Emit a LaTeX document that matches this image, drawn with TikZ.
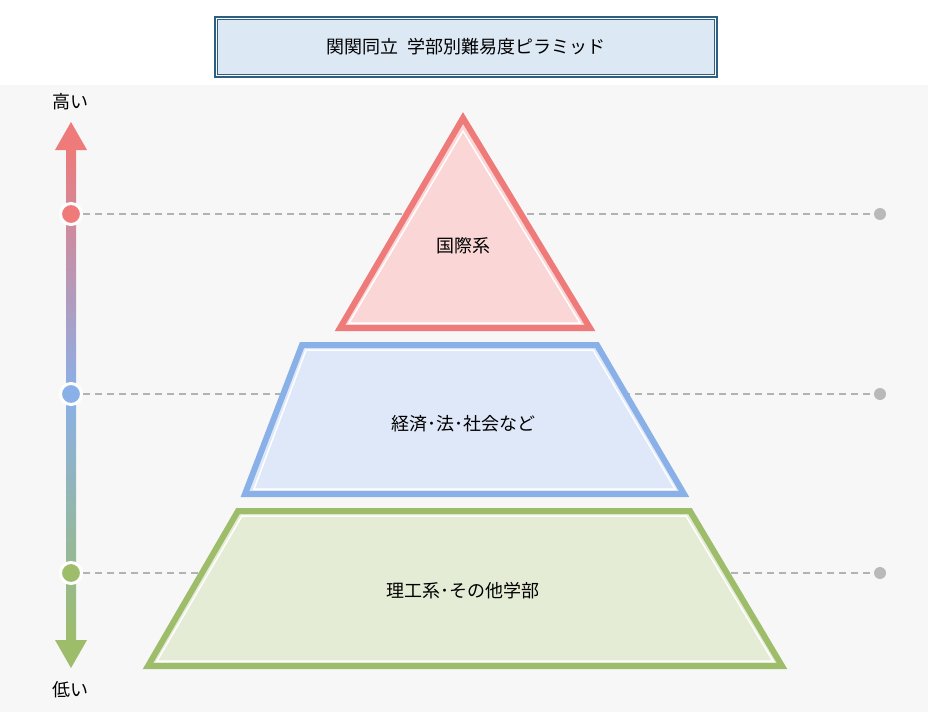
\documentclass[tikz,border=0pt]{standalone}
\usepackage{fontspec}
\newfontfamily\jp{Noto Sans CJK JP}
\definecolor{rd}{HTML}{EE7A7A}\definecolor{rdf}{HTML}{FBD6D6}
\definecolor{bl}{HTML}{8AB0E8}\definecolor{blf}{HTML}{DFE8F8}
\definecolor{gr}{HTML}{9DBD6A}\definecolor{grf}{HTML}{E5ECD6}
\definecolor{tb}{HTML}{2E5F80}\definecolor{tf}{HTML}{DCE9F5}
\begin{document}
\begin{tikzpicture}[x=1pt,y=-1pt,font=\jp\fontsize{18}{21}\selectfont,
  tier/.style={line width=6pt,line join=miter},
  inner/.style={draw=white,line width=1.5pt},
  guide/.style={draw=gray!60,line width=1.3pt,dash pattern=on 7pt off 5pt},
  enddot/.style={circle,fill=gray!55,minimum size=12pt,inner sep=0},
  lvl/.style={circle,draw=white,line width=3pt,minimum size=21pt,inner sep=0}]
\useasboundingbox (0,0) rectangle (928,712);
\fill[white] (0,0) rectangle (928,85);
\fill[black!3] (0,85) rectangle (928,712);
% title
\node[draw=tb,line width=1.8pt,fill=tf,minimum width=502pt,minimum height=60pt] (title) at (466,47) {関関同立\ \ 学部別難易度ピラミッド};
\draw[white,line width=0.8pt] (216.5,18.5) rectangle (715.5,75.5);
\draw[tb,line width=0.6pt] (217.5,19.5) rectangle (714.5,74.5);
% dashed lines
\node[enddot] (e1) at (880,214) {};
\node[enddot] (e2) at (880,394) {};
\node[enddot] (e3) at (880,573) {};
\coordinate (c1) at (71,214);\coordinate (c2) at (71,394);\coordinate (c3) at (71,573);
\draw[guide] (c1) -- (e1); \draw[guide] (c2) -- (e2); \draw[guide] (c3) -- (e3);
% pyramid
\filldraw[tier,draw=rd,fill=rdf] (463,118) -- (590,328) -- (340,328) -- cycle;
\draw[inner] (463,131) -- (580,323) -- (349,323) -- cycle;
\node (t1) at (463,246) {国際系};
\filldraw[tier,draw=bl,fill=blf] (302,345) -- (597,345) -- (684,494) -- (245,494) -- cycle;
\draw[inner] (306,350) -- (593,350) -- (675,489) -- (254,489) -- cycle;
\node (t2) at (463,424) {経済･法･社会など};
\filldraw[tier,draw=gr,fill=grf] (238,511) -- (690,511) -- (782,666) -- (148,666) -- cycle;
\draw[inner] (242,516) -- (686,516) -- (773,661) -- (157,661) -- cycle;
\node (t3) at (463,591) {理工系･その他学部};
% left arrow
\shade[top color=rd,bottom color=gr,middle color=bl] (66,148) rectangle (76,642);
\fill[rd] (55,150) -- (71,122) -- (87,150) -- cycle;
\fill[gr] (55,640) -- (71,668) -- (87,640) -- cycle;
\node[lvl,fill=rd] (d1) at (c1) {};
\node[lvl,fill=bl] (d2) at (c2) {};
\node[lvl,fill=gr] (d3) at (c3) {};
\node (hi) at (70,102) {高い};
\node (lo) at (70,690) {低い};
\end{tikzpicture}
\end{document}
